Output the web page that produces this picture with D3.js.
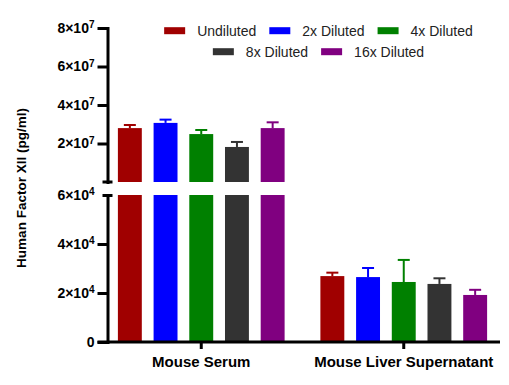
<!DOCTYPE html>
<html><head><meta charset="utf-8">
<script src="https://cdn.jsdelivr.net/npm/d3@7"></script>
<style>body{margin:0;background:#fff}</style>
</head><body>
<svg id="c" width="509" height="385"></svg>
<script>
const categories = ["Mouse Serum", "Mouse Liver Supernatant"];
const series = ["Undiluted", "2x Diluted", "4x Diluted", "8x Diluted", "16x Diluted"];
const colors = ["#A00000", "#0000FF", "#008000", "#333333", "#800080"];
const serumMeans = [2.80e7, 3.07e7, 2.49e7, 1.82e7, 2.80e7];
const serumSD = [0.16e7, 0.17e7, 0.21e7, 0.26e7, 0.30e7];
const liverMeans = [2.69e4, 2.65e4, 2.45e4, 2.37e4, 1.92e4];
const liverSD = [0.14e4, 0.37e4, 0.90e4, 0.23e4, 0.21e4];
const lowTicks = [0, 2e4, 4e4, 6e4];
const lowTickLabels = ["0", "2×10^4", "4×10^4", "6×10^4"];
const highTicks = [2e7, 4e7, 6e7, 8e7];
const highTickLabels = ["2×10^7", "4×10^7", "6×10^7", "8×10^7"];
const yTitle = "Human Factor XII (pg/ml)";

const FONT = "'Liberation Sans', Arial, sans-serif";
const svg = d3.select("#c").style("font-family", FONT);

const axisX = 107.5;
const yLow = d3.scaleLinear().domain([0, 6e4]).range([342, 195]);
const yHigh = d3.scaleLinear().domain([0, 8e7]).range([182, 28]);
const breakVal = yLow.domain()[1];

const x0 = d3.scaleBand().domain(categories).range([100, 505]).padding(0);
const x1 = d3.scaleBand().domain(series).range([-89.25, 89.25]).paddingInner(0.33).paddingOuter(0.165);

const data = categories.flatMap((c, i) => series.map((s, j) => ({
  cat: c, s, j,
  mean: i === 0 ? serumMeans[j] : liverMeans[j],
  sd: i === 0 ? serumSD[j] : liverSD[j]
})));

const bx = d => x0(d.cat) + x0.bandwidth() / 2 + x1(d.s);
const bars = svg.append("g");
bars.selectAll("rect.low").data(data).join("rect").attr("class", "low")
  .attr("x", bx).attr("width", x1.bandwidth())
  .attr("y", d => yLow(Math.min(d.mean, breakVal)))
  .attr("height", d => yLow(0) - yLow(Math.min(d.mean, breakVal)))
  .attr("fill", d => colors[d.j]);
bars.selectAll("rect.high").data(data.filter(d => d.mean > breakVal)).join("rect").attr("class", "high")
  .attr("x", bx).attr("width", x1.bandwidth())
  .attr("y", d => yHigh(d.mean))
  .attr("height", d => yHigh(0) - yHigh(d.mean))
  .attr("fill", d => colors[d.j]);

const sc = d => d.mean > breakVal ? yHigh : yLow;
const eb = svg.append("g").selectAll("g").data(data).join("g");
eb.append("line")
  .attr("x1", d => bx(d) + x1.bandwidth() / 2).attr("x2", d => bx(d) + x1.bandwidth() / 2)
  .attr("y1", d => sc(d)(d.mean)).attr("y2", d => sc(d)(d.mean + d.sd))
  .attr("stroke", d => colors[d.j]).attr("stroke-width", 2);
eb.append("line")
  .attr("x1", d => bx(d) + x1.bandwidth() / 2 - 6).attr("x2", d => bx(d) + x1.bandwidth() / 2 + 6)
  .attr("y1", d => sc(d)(d.mean + d.sd)).attr("y2", d => sc(d)(d.mean + d.sd))
  .attr("stroke", d => colors[d.j]).attr("stroke-width", 2);

function fmtLabels(g, labels) {
  g.selectAll(".tick text").each(function (d, i) {
    const t = d3.select(this);
    const parts = labels[i].split("^");
    t.text(null);
    t.append("tspan").text(parts[0]);
    if (parts[1]) t.append("tspan").attr("dy", "-0.45em").attr("font-size", "10px").text(parts[1]);
  });
}
function styleAxis(g) {
  g.select(".domain").attr("stroke", "#000").attr("stroke-width", 3).attr("stroke-linecap", "square");
  g.selectAll(".tick line").attr("stroke", "#000").attr("stroke-width", 3);
  g.selectAll(".tick text").attr("fill", "#000").attr("font-size", "14px").attr("font-weight", "bold").attr("font-family", FONT);
}

const gHigh = svg.append("g").attr("transform", `translate(${axisX},0)`)
  .call(d3.axisLeft(yHigh).tickValues(highTicks).tickSize(10).tickSizeOuter(0).tickPadding(3));
styleAxis(gHigh); fmtLabels(gHigh, highTickLabels);
gHigh.append("line").attr("x1", -5).attr("x2", 5).attr("y1", yHigh(0)).attr("y2", yHigh(0))
  .attr("stroke", "#000").attr("stroke-width", 3);

const gLow = svg.append("g").attr("transform", `translate(${axisX},0)`)
  .call(d3.axisLeft(yLow).tickValues(lowTicks).tickSize(10).tickSizeOuter(0).tickPadding(3));
styleAxis(gLow); fmtLabels(gLow, lowTickLabels);
gLow.selectAll(".tick").filter(d => d === breakVal).select("line").attr("x1", 5).attr("x2", -5);

const gx = svg.append("g").attr("transform", `translate(0,${yLow(0)})`)
  .call(d3.axisBottom(x0).tickSize(7).tickSizeOuter(0));
gx.select(".domain").attr("d", `M${axisX - 10},0H${x0.range()[1] - 5}`).attr("stroke", "#000").attr("stroke-width", 3);
gx.selectAll(".tick line").attr("stroke", "#000").attr("stroke-width", 3);
gx.selectAll(".tick text").attr("fill", "#000").attr("font-size", "15px").attr("font-weight", "bold")
  .attr("font-family", FONT).attr("y", 14);

svg.append("text").attr("transform", "translate(26,188) rotate(-90)")
  .attr("text-anchor", "middle").attr("font-size", "13.5px").attr("font-weight", "bold")
  .attr("fill", "#000").text(yTitle);

const rows = [[0, 1, 2], [3, 4]];
const rowY = [30.7, 51.7];
const legCx = 318.5;
rows.forEach((r, ri) => {
  const g = svg.append("g");
  let x = 0;
  r.forEach(j => {
    g.append("rect").attr("x", x).attr("y", rowY[ri] - 3.5).attr("width", 21).attr("height", 7).attr("fill", colors[j]);
    const t = g.append("text").attr("x", x + 33).attr("y", rowY[ri]).attr("dy", "0.35em")
      .attr("font-size", "14px").attr("fill", "#222").text(series[j]);
    x += 33 + t.node().getComputedTextLength() + 13;
  });
  const w = x - 13;
  g.attr("transform", `translate(${legCx - w / 2},0)`);
});
</script>
</body></html>
